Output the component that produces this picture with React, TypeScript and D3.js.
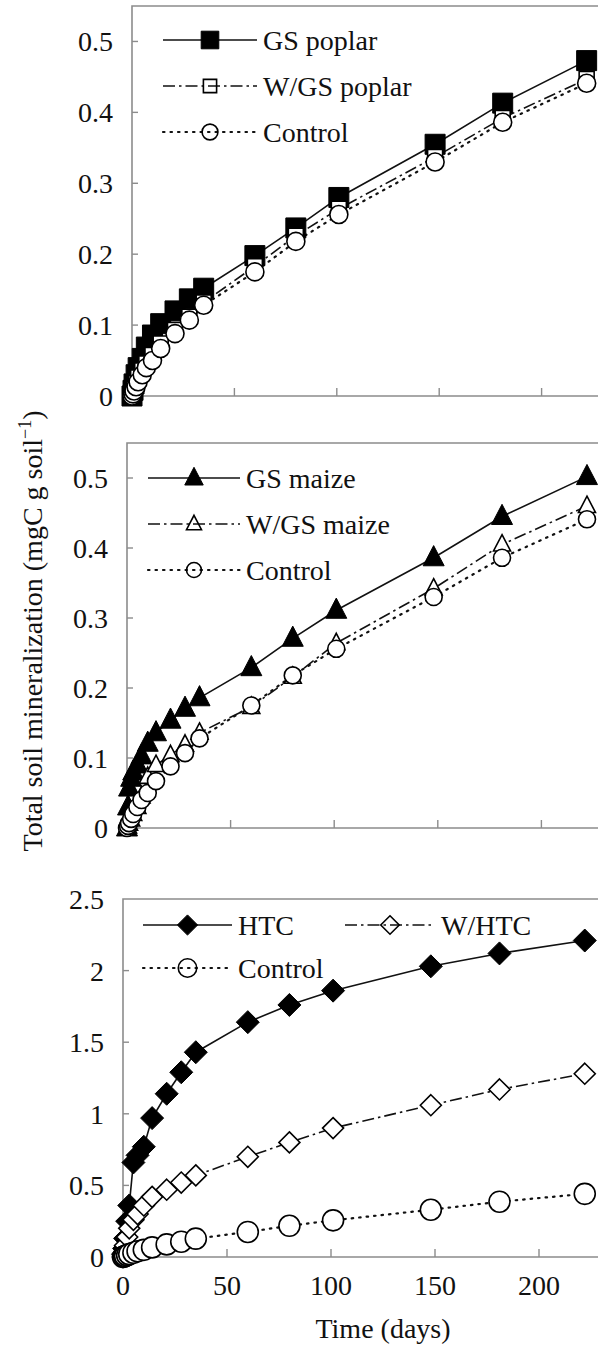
import React from "react";
import * as d3 from "d3";

const DAYS = [0, 0.5, 1, 2, 3, 5, 7, 10, 14, 21, 28, 35, 60, 80, 101, 148, 181, 222];

const GS_POPLAR = [0, 0.008, 0.017, 0.03, 0.04, 0.053, 0.069, 0.086, 0.102, 0.12, 0.137, 0.152, 0.198, 0.237, 0.28, 0.355, 0.413, 0.473];
const WGS_POPLAR = [0, 0.004, 0.01, 0.018, 0.026, 0.036, 0.046, 0.058, 0.074, 0.093, 0.112, 0.132, 0.183, 0.226, 0.264, 0.337, 0.392, 0.447];
const CONTROL = [0, 0.003, 0.007, 0.013, 0.02, 0.03, 0.04, 0.05, 0.067, 0.088, 0.107, 0.128, 0.175, 0.218, 0.256, 0.33, 0.386, 0.441];

const GS_MAIZE = [0, 0.03, 0.057, 0.071, 0.08, 0.09, 0.103, 0.121, 0.136, 0.154, 0.171, 0.186, 0.229, 0.271, 0.311, 0.386, 0.445, 0.502];
const WGS_MAIZE = [0, 0.002, 0.006, 0.012, 0.02, 0.03, 0.045, 0.073, 0.09, 0.104, 0.119, 0.136, 0.173, 0.216, 0.264, 0.342, 0.405, 0.46];

const HTC = [0.02, 0.06, 0.13, 0.25, 0.36, 0.66, 0.71, 0.77, 0.97, 1.14, 1.29, 1.43, 1.64, 1.76, 1.86, 2.03, 2.12, 2.21];
const W_HTC = [0, 0.03, 0.08, 0.14, 0.2, 0.26, 0.3, 0.36, 0.42, 0.47, 0.52, 0.57, 0.7, 0.8, 0.9, 1.06, 1.17, 1.28];

const Y_TICKS_SMALL = [0, 0.1, 0.2, 0.3, 0.4, 0.5];
const Y_TICKS_BIG = [0, 0.5, 1, 1.5, 2, 2.5];
const X_TICKS = [0, 50, 100, 150, 200, 250];

const FONT = '"Liberation Serif", "DejaVu Serif", "Times New Roman", Times, serif';
const FS = 28;
const AXIS_COLOR = "#8c8c8c";
const TXT = "#111";

type Marker = "fsquare" | "osquare" | "circle" | "ftri" | "otri" | "fdiamond" | "odiamond";

function markerPath(type: Marker, s: number): string {
  if (type === "fsquare" || type === "osquare") {
    const h = s / 2;
    return `M${-h},${-h}H${h}V${h}H${-h}Z`;
  }
  if (type === "ftri" || type === "otri") {
    const w = s / 2;
    return `M0,${-s * 0.58}L${w},${s * 0.38}L${-w},${s * 0.38}Z`;
  }
  if (type === "fdiamond" || type === "odiamond") {
    const h = s / 2;
    return `M0,${-h}L${h},0L0,${h}L${-h},0Z`;
  }
  const r = s / 2;
  return `M${r},0A${r},${r} 0 1,1 ${-r},0A${r},${r} 0 1,1 ${r},0Z`;
}

interface Series {
  name: string;
  values: number[];
  marker: Marker;
  size: number;
  dash: string;
  width: number;
}

interface PanelDef {
  left: number;
  width: number;
  top: number;
  bottom: number;
  yMax: number;
  yTicks: number[];
  yFmt: (v: number) => string;
  series: Series[];
  xLabels: boolean;
  legend: { x1: number; x2: number; y: number }[];
}

const DASHDOT = "12,4,2.5,4";
const DOTTED = "1.5,6";

const panels: PanelDef[] = [
  {
    left: 132, width: 512, top: 6, bottom: 396, yMax: 0.55,
    yTicks: Y_TICKS_SMALL, yFmt: (v) => String(v),
    xLabels: false,
    series: [
      { name: "GS poplar", values: GS_POPLAR, marker: "fsquare", size: 20, dash: "", width: 1.6 },
      { name: "W/GS poplar", values: WGS_POPLAR, marker: "osquare", size: 15, dash: DASHDOT, width: 1.6 },
      { name: "Control", values: CONTROL, marker: "circle", size: 18, dash: DOTTED, width: 2.2 },
    ],
    legend: [
      { x1: 163, x2: 257, y: 40 },
      { x1: 163, x2: 257, y: 86 },
      { x1: 163, x2: 257, y: 132 },
    ],
  },
  {
    left: 127, width: 518, top: 443, bottom: 828, yMax: 0.55,
    yTicks: Y_TICKS_SMALL, yFmt: (v) => String(v),
    xLabels: false,
    series: [
      { name: "GS maize", values: GS_MAIZE, marker: "ftri", size: 21, dash: "", width: 1.6 },
      { name: "W/GS maize", values: WGS_MAIZE, marker: "otri", size: 17, dash: DASHDOT, width: 1.6 },
      { name: "Control", values: CONTROL, marker: "circle", size: 17, dash: DOTTED, width: 2.2 },
    ],
    legend: [
      { x1: 148, x2: 240, y: 478 },
      { x1: 148, x2: 240, y: 524 },
      { x1: 148, x2: 240, y: 570 },
    ],
  },
  {
    left: 123, width: 520, top: 899, bottom: 1257, yMax: 2.5,
    yTicks: Y_TICKS_BIG, yFmt: (v) => String(v),
    xLabels: true,
    series: [
      { name: "HTC", values: HTC, marker: "fdiamond", size: 23, dash: "", width: 1.6 },
      { name: "W/HTC", values: W_HTC, marker: "odiamond", size: 21, dash: DASHDOT, width: 1.6 },
      { name: "Control", values: CONTROL, marker: "circle", size: 21, dash: DOTTED, width: 2.2 },
    ],
    legend: [
      { x1: 143, x2: 232, y: 925 },
      { x1: 345, x2: 435, y: 925 },
      { x1: 143, x2: 232, y: 968 },
    ],
  },
];

function isFilled(m: Marker) {
  return m === "fsquare" || m === "ftri" || m === "fdiamond";
}

const textStyle: React.CSSProperties = { fontFamily: FONT, fontSize: FS };

function Panel({ p }: { p: PanelDef }) {
  const x = d3.scaleLinear().domain([0, 250]).range([p.left, p.left + p.width]);
  const y = d3.scaleLinear().domain([0, p.yMax]).range([p.bottom, p.top]);
  const line = d3
    .line<number>()
    .x((_, i) => x(DAYS[i]))
    .y((v) => y(v));
  const right = p.left + p.width;
  return (
    <g>
      <path
        d={`M${p.left},${p.bottom}V${p.top}H${right}V${p.bottom}Z`}
        fill="none"
        stroke={AXIS_COLOR}
        strokeWidth={1.6}
      />
      {p.yTicks.map((t) => (
        <g key={"y" + t}>
          {t > 0 && y(t) > p.top + 2 && (
            <line x1={p.left} x2={p.left + 6} y1={y(t)} y2={y(t)} stroke={AXIS_COLOR} strokeWidth={1.4} />
          )}
          <text x={p.left - 19} y={y(t) + 10} textAnchor="end" style={textStyle} fill={TXT}>
            {p.yFmt(t)}
          </text>
        </g>
      ))}
      {X_TICKS.map((t) => (
        <g key={"x" + t}>
          {t > 0 && (
            <line x1={x(t)} x2={x(t)} y1={p.bottom} y2={p.bottom - 8} stroke={AXIS_COLOR} strokeWidth={1.4} />
          )}
          {p.xLabels && t <= 200 && (
            <text x={x(t)} y={p.bottom + 38} textAnchor="middle" style={textStyle} fill={TXT}>
              {t}
            </text>
          )}
        </g>
      ))}
      {p.series.map((s, si) => (
        <path
          key={"l" + si}
          d={line(s.values) || ""}
          fill="none"
          stroke="#111"
          strokeWidth={s.width}
          strokeDasharray={s.dash || undefined}
          strokeLinecap={s.dash === DOTTED ? "round" : "butt"}
        />
      ))}
      {p.series.map((s, si) => (
        <g key={"m" + si}>
          {s.values.map((v, i) => (
            <path
              key={i}
              transform={`translate(${x(DAYS[i])},${y(v)})`}
              d={markerPath(s.marker, s.size)}
              fill={isFilled(s.marker) ? "#000" : "#fff"}
              stroke="#000"
              strokeWidth={isFilled(s.marker) ? 1 : 1.6}
            />
          ))}
        </g>
      ))}
      {p.series.map((s, si) => {
        const L = p.legend[si];
        const mx = (L.x1 + L.x2) / 2;
        return (
          <g key={"lg" + si}>
            <line
              x1={L.x1}
              x2={L.x2}
              y1={L.y}
              y2={L.y}
              stroke="#111"
              strokeWidth={s.width}
              strokeDasharray={s.dash || undefined}
              strokeLinecap={s.dash === DOTTED ? "round" : "butt"}
            />
            <path
              transform={`translate(${mx},${L.y})`}
              d={markerPath(s.marker, s.size * 0.88)}
              fill={isFilled(s.marker) ? "#000" : "none"}
              stroke="#000"
              strokeWidth={isFilled(s.marker) ? 1 : 1.6}
            />
            <text x={L.x2 + 6} y={L.y + 10} style={textStyle} fill={TXT}>
              {s.name}
            </text>
          </g>
        );
      })}
    </g>
  );
}

export default function App() {
  return (
    <svg
      width={598}
      height={1345}
      viewBox="0 0 598 1345"
      style={{ position: "absolute", left: 0, top: 0, background: "#fff", display: "block" }}
    >
      <rect x={0} y={0} width={598} height={1345} fill="#fff" />
      {panels.map((p, i) => (
        <Panel key={i} p={p} />
      ))}
      <text transform="translate(42,631) rotate(-90)" textAnchor="middle" style={textStyle} fill={TXT}>
        Total soil mineralization (mgC g soil
        <tspan style={{ fontSize: 18 }} dy={-11}>−1</tspan>
        <tspan dy={11}>)</tspan>
      </text>
      <text x={383} y={1338} textAnchor="middle" style={textStyle} fill={TXT}>
        Time (days)
      </text>
    </svg>
  );
}
